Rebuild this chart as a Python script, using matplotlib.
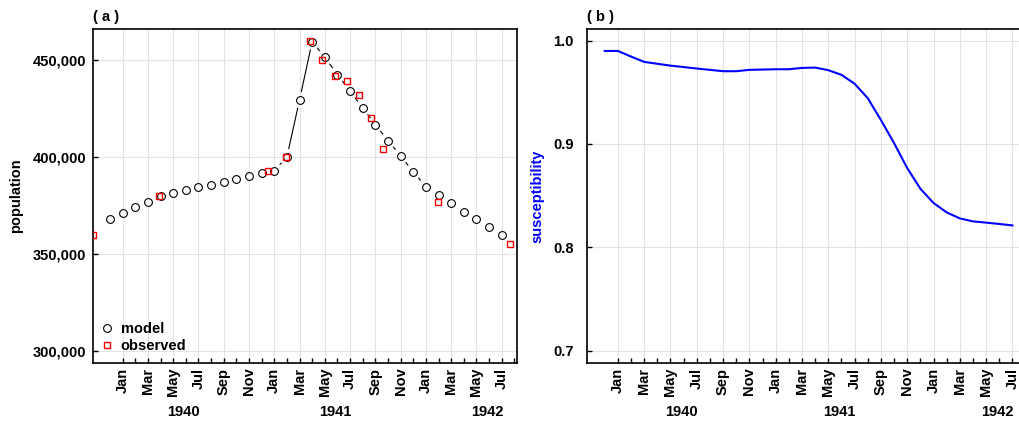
import numpy as np
import matplotlib
matplotlib.use('Agg')
from matplotlib import pyplot as plt
from matplotlib.collections import LineCollection
from matplotlib.ticker import FuncFormatter

# month index: 0 = first "Jan" tick
model_month = [-1, 0, 1, 2, 3, 4, 5, 6, 7, 8, 9, 10, 11, 12, 13, 14, 15,
               16, 17, 18, 19, 20, 21, 22, 23, 24, 25, 26, 27, 28, 29, 30]
model_pop = [368000, 371100, 374200, 377150, 380070, 381800, 383160, 384540,
             385910, 387460, 388830, 390210, 391750, 393130, 400170, 429550,
             459600, 451540, 442610, 434020, 425430, 416840, 408590, 400690,
             392610, 384880, 380410, 376290, 372000, 368050, 363920, 359800]

obs_month = [-2.32, 2.90, 11.48, 12.93, 14.86, 15.78, 16.78, 17.73, 18.71,
             19.66, 20.63, 24.96, 30.69]
obs_pop = [360000, 380070, 392960, 400170, 460130, 449990, 442090, 439170,
           431950, 420270, 404470, 377150, 355160]

sus_month = model_month
sus = [0.990, 0.990, 0.9846, 0.9794, 0.9776, 0.9758, 0.9744, 0.9730, 0.9717,
       0.9704, 0.9704, 0.9717, 0.9720, 0.9723, 0.9723, 0.9736, 0.9739,
       0.9714, 0.9669, 0.9583, 0.9443, 0.9232, 0.9009, 0.8767, 0.8567,
       0.8429, 0.8338, 0.8280, 0.8251, 0.8239, 0.8226, 0.8212]

tick_months = [0, 2, 4, 6, 8, 10, 12, 14, 16, 18, 20, 22, 24, 26, 28, 30]
tick_labels = ['Jan', 'Mar', 'May', 'Jul', 'Sep', 'Nov'] * 2 + ['Jan', 'Mar', 'May', 'Jul']
minor_months = [1, 3, 5, 7, 9, 11, 13, 15, 17, 19, 21, 23, 25, 27, 29, 31]
years = ['1940', '1941', '1942']
year_pos = [4.8, 16.8, 28.85]

plt.rcParams['font.family'] = ['Liberation Sans', 'DejaVu Sans']
plt.rcParams['font.weight'] = 'bold'
plt.rcParams['font.size'] = 10.5

XMIN, XMAX = -2.32, 31.19


def gapped_line(ax, x, y, gap):
    # R style type="b": segments stop short of each point
    pts = ax.transData.transform(np.column_stack([x, y]))
    inv = ax.transData.inverted()
    segs = []
    for p0, p1 in zip(pts[:-1], pts[1:]):
        d = p1 - p0
        L = np.hypot(d[0], d[1])
        if L > 2 * gap:
            u = d / L
            segs.append(inv.transform(np.array([p0 + u * gap, p1 - u * gap])))
    ax.add_collection(LineCollection(segs, colors='black', linewidths=0.8, zorder=2))


def style_axes(ax, ylim, yticks, ypad):
    ax.set_xlim(XMIN, XMAX)
    ax.set_ylim(*ylim)
    ax.set_xticks(tick_months)
    ax.set_xticklabels(tick_labels, rotation=90)
    ax.set_xticks(minor_months, minor=True)
    ax.set_yticks(yticks)
    ax.grid(True, which='major', color='#e3e3e3', linewidth=0.8)
    ax.set_axisbelow(True)
    ax.tick_params(which='both', direction='in', length=3.5, width=1, color='black')
    ax.tick_params(axis='x', pad=3.5)
    ax.tick_params(axis='y', pad=ypad)
    for s in ax.spines.values():
        s.set_linewidth(1.2)
    for yr, xp in zip(years, year_pos):
        ax.text(xp, -0.148, yr, transform=ax.get_xaxis_transform(),
                ha='center', va='center')


fig = plt.figure(figsize=(10.19, 4.23), dpi=100)
ax1 = fig.add_axes([0.0916, 0.1426, 0.4155, 0.789])
ax2 = fig.add_axes([0.5764, 0.1426, 0.4325, 0.789])

style_axes(ax1, (294124, 466134), [300000, 350000, 400000, 450000], 5)
ax1.yaxis.set_major_formatter(FuncFormatter(lambda v, p: '{:,.0f}'.format(v)))
gapped_line(ax1, model_month, model_pop, 8)
ax1.plot(model_month, model_pop, 'o', ms=5.6, mfc='white', mec='black', mew=0.8,
         zorder=3, label='model')
ax1.plot(obs_month, obs_pop, 's', ms=4.8, mfc='none', mec='#ff0000', mew=1.0,
         zorder=4, label='observed')
ax1.legend(loc='lower left', bbox_to_anchor=(0.018, 0.029), frameon=False,
           borderpad=0, borderaxespad=0, handlelength=0.8, handletextpad=0.56,
           labelspacing=0.2)
fig.text(16.0 / 1019, 1 - 196.0 / 423, 'population', rotation=90,
         ha='center', va='center')
ax1.text(0.0, 1.036, '( a )', transform=ax1.transAxes, ha='left', va='center',
         fontsize=10.5)

style_axes(ax2, (0.6884, 1.0113), [0.7, 0.8, 0.9, 1.0], 10)
ax2.yaxis.set_major_formatter(FuncFormatter(lambda v, p: '{:.1f}'.format(v)))
ax2.plot(sus_month, sus, color='#0000ff', linewidth=1.5)
fig.text(537.0 / 1019, 1 - 196.0 / 423, 'susceptibility', rotation=90,
         ha='center', va='center', color='#0000ff')
ax2.text(0.0, 1.036, '( b )', transform=ax2.transAxes, ha='left', va='center',
         fontsize=10.5)

fig.savefig('out.png', dpi=100)
